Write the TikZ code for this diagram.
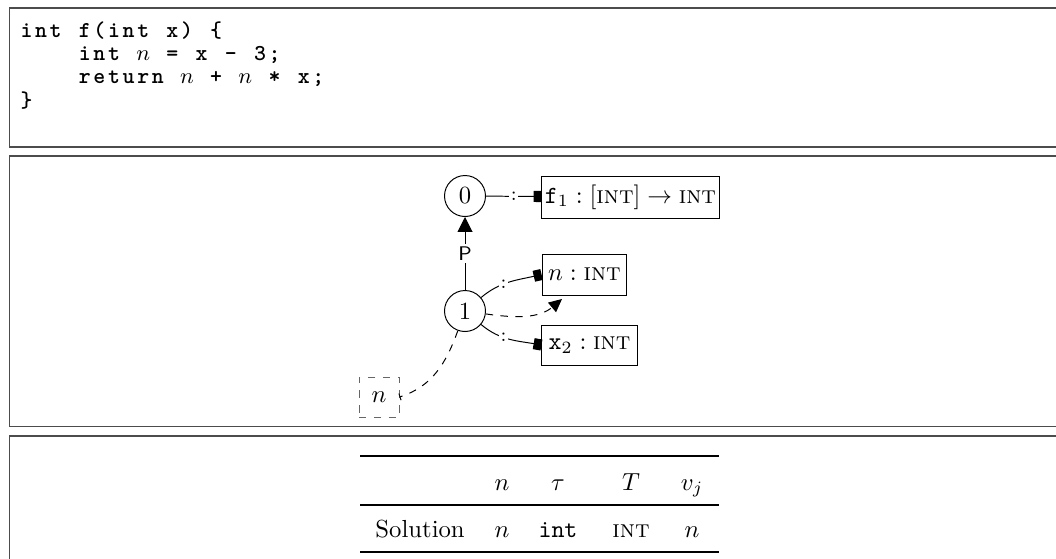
\documentclass[tikz,border=0pt]{standalone}
\usetikzlibrary{arrows.meta}
\newcommand\cbox[1]{\makebox[5.91pt][c]{#1}}
\makeatletter
\def\rk@dot{.}
\def\rk@N{N}
\newcommand\codeline[1]{\@tfor\rk@t:=#1\do{\ifx\rk@t\rk@dot\cbox{}\else\ifx\rk@t\rk@N\cbox{$n$}\else\cbox{\rk@t}\fi\fi}}
\makeatother
\tikzset{
  scp/.style={circle,draw,minimum size=16.6pt,inner sep=0pt},
  decl/.style={draw,rectangle,inner sep=0pt,minimum height=16.6pt},
  refbox/.style={draw=black!60,dashed,minimum size=16.2pt,inner sep=0pt},
  colon/.style={fill=white,inner sep=0.6pt,font=\footnotesize},
  sq/.style={-{Square[length=3.2pt,width=4.5pt]}},
  tri/.style={-{Triangle[length=6pt,width=6pt]}},
  dtri/.style={-{Triangle[length=5.3pt,width=5pt]}},
  panel/.style={draw=black!70,line width=0.5pt},
  code/.style={anchor=base west,inner sep=0pt,font=\ttfamily\bfseries\fontsize{9.2}{11}\selectfont},
  cell/.style={anchor=base,inner sep=0pt},
}
\begin{document}
\begin{tikzpicture}[x=0.405pt,y=0.405pt]
\useasboundingbox (0,0) rectangle (1056,-558);
% panels
\draw[panel] (1070,-8) -- (9.5,-8) -- (9.5,-147) -- (1070,-147);
\draw[panel] (1070,-156) -- (9.5,-156) -- (9.5,-426.5) -- (1070,-426.5);
\draw[panel] (1070,-436) -- (9.5,-436) -- (9.5,-570);
% code
\node[code] (l1) at (18.7,-37.3) {\codeline{int.f(int.x).\{}};
\node[code] (l2) at (18.7,-60.5) {\codeline{....int.N.=.x.-.3;}};
\node[code] (l3) at (18.7,-83.7) {\codeline{....return.N.+.N.*.x;}};
\node[code] (l4) at (18.7,-107) {\codeline{\}}};
% scope graph
\node[scp] (c0) at (465,-196) {0};
\node[scp] (c1) at (465,-311) {1};
\node[decl,minimum width=71.7pt,minimum height=17pt] (f1) at (630.5,-197) {$\texttt{f}_1 : [\textsc{int}] \rightarrow \textsc{int}$};
\node[decl,minimum width=34.4pt] (nd) at (584.5,-274.5) {$n : \textsc{int}$};
\node[decl,minimum width=38.5pt,minimum height=16.2pt] (xd) at (589.5,-345) {$\texttt{x}_2 : \textsc{int}$};
\node[refbox] (rn) at (379,-397) {$n$};
\coordinate (rt) at (562,-299);
\draw[tri] (c1) -- node[fill=white,inner sep=1pt,font=\sffamily\footnotesize] {P} (c0);
\draw[sq] (c0) -- node[colon] {:} (f1);
\draw[sq] (c1) to[out=40,in=193] node[colon,pos=0.4] {:} (nd.west);
\draw[sq] (c1) to[out=-40,in=170] node[colon,pos=0.4] {:} (xd.west);
\draw[dashed,dtri] (c1.-8) to[out=-8,in=220] (rt);
\draw[dashed,-{Bar[width=2.8pt]}] (c1.-110) to[out=-110,in=18] (rn.east);
% table
\draw[line width=0.8pt] (360,-456) -- (719,-456);
\draw[line width=0.5pt] (360,-505) -- (719,-505);
\draw[line width=0.8pt] (360,-552) -- (719,-552);
\node[cell] (h1) at (502,-490) {$n$};
\node[cell] (h2) at (558,-490) {$\tau$};
\node[cell] (h3) at (631,-490) {$T$};
\node[cell] (h4) at (692,-490) {$v_j$};
\node[cell,anchor=base west] (r0) at (375,-537) {Solution};
\node[cell] (r1) at (502,-537) {$n$};
\node[cell] (r2) at (558,-537) {\texttt{int}};
\node[cell] (r3) at (631,-537) {\textsc{int}};
\node[cell] (r4) at (692,-537) {$n$};
\end{tikzpicture}
\end{document}
